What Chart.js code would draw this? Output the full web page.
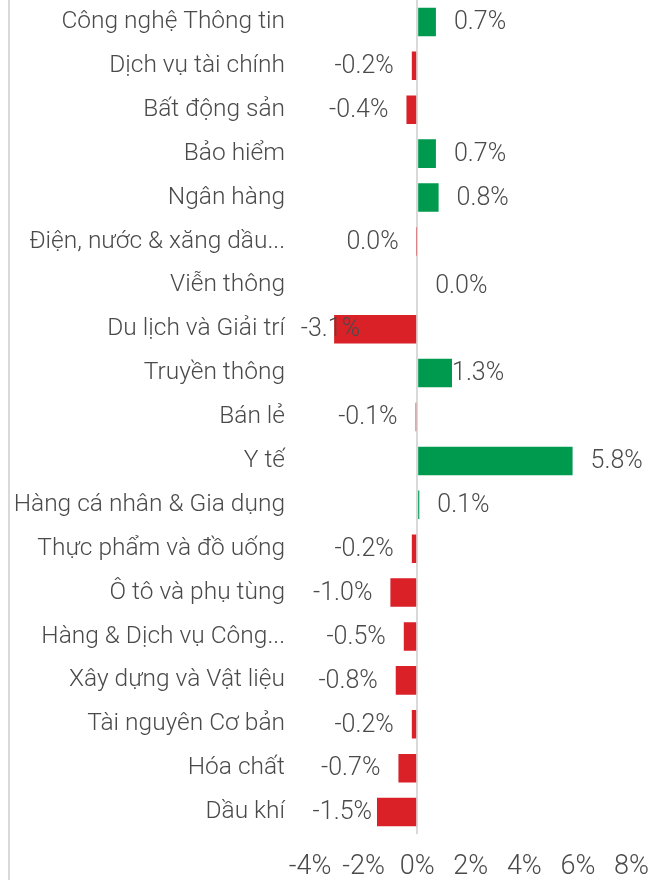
<!DOCTYPE html>
<html>
<head>
<meta charset="utf-8">
<script src="https://cdn.jsdelivr.net/npm/chart.js@4.4.1/dist/chart.umd.min.js"></script>
<style>
  html, body { margin: 0; padding: 0; background: #fff; }
  #wrap { width: 666px; height: 880px; position: relative; }
</style>
</head>
<body>
<div id="wrap"><canvas id="chart"></canvas></div>
<script>
// Thay đổi theo ngành (%)
const categories = [
    'Công nghệ Thông tin', 'Dịch vụ tài chính', 'Bất động sản', 'Bảo hiểm',
    'Ngân hàng', 'Điện, nước & xăng dầu...', 'Viễn thông', 'Du lịch và Giải trí',
    'Truyền thông', 'Bán lẻ', 'Y tế', 'Hàng cá nhân & Gia dụng',
    'Thực phẩm và đồ uống', 'Ô tô và phụ tùng', 'Hàng & Dịch vụ Công...',
    'Xây dựng và Vật liệu', 'Tài nguyên Cơ bản', 'Hóa chất', 'Dầu khí'
];
const changes = [
    0.7, -0.2, -0.4, 0.7,
    0.8, -0.02, 0.0, -3.1,
    1.3, -0.06, 5.8, 0.08,
    -0.2, -1.0, -0.5,
    -0.8, -0.2, -0.7, -1.5
];
const xTicks = [-4, -2, 0, 2, 4, 6, 8];

const GREEN = '#009a4e';
const RED = '#da2128';
const TEXT = '#4a4a4a';
const FONT = 'Roboto, "Noto Sans", sans-serif';

function fmtPct(v) {
    const s = v.toFixed(1);
    return (s === '-0.0' ? '0.0' : s) + '%';
}

// nhãn dữ liệu ở đầu cột; vài nhãn được dịch tay như bản gốc
const barLabels = {
    id: 'barLabels',
    afterDatasetsDraw(chart, args, opts) {
        const ctx = chart.ctx;
        const meta = chart.getDatasetMeta(0);
        const vals = chart.data.datasets[0].data;
        ctx.save();
        ctx.font = '300 25px ' + FONT;
        ctx.fillStyle = TEXT;
        ctx.textBaseline = 'middle';
        meta.data.forEach((bar, i) => {
            const v = vals[i];
            const neg = v < 0;
            const nudge = opts.nudge[i] || 0;
            ctx.textAlign = neg ? 'right' : 'left';
            const x = bar.x + (neg ? -opts.gap : opts.gap) + nudge;
            ctx.fillText(fmtPct(v), x, bar.y + 1);
        });
        ctx.restore();
    }
};

const frameLine = {
    id: 'frameLine',
    beforeDraw(chart) {
        const ctx = chart.ctx;
        ctx.save();
        ctx.strokeStyle = '#d9d9d9';
        ctx.lineWidth = 2;
        ctx.beginPath();
        ctx.moveTo(9, 0);
        ctx.lineTo(9, chart.height);
        ctx.stroke();
        ctx.restore();
    }
};

new Chart(document.getElementById('chart'), {
    type: 'bar',
    data: {
        labels: categories,
        datasets: [{
            data: changes,
            backgroundColor: changes.map(v => v < 0 ? RED : GREEN),
            borderWidth: 0,
            barPercentage: 0.65,
            categoryPercentage: 1
        }]
    },
    options: {
        indexAxis: 'y',
        responsive: true,
        maintainAspectRatio: false,
        animation: false,
        layout: { padding: { top: 0, right: 34, bottom: 0, left: 0 } },
        plugins: {
            legend: { display: false },
            tooltip: { enabled: false },
            barLabels: { gap: 18, nudge: { 7: 44, 8: -18, 18: 13 } }
        },
        scales: {
            x: {
                min: xTicks[0],
                max: xTicks[xTicks.length - 1],
                afterBuildTicks: s => { s.ticks = xTicks.map(v => ({ value: v })); },
                afterFit: s => { s.height = 46; },
                border: { display: false },
                grid: {
                    drawTicks: false,
                    lineWidth: 2,
                    color: c => c.tick && c.tick.value === 0 ? '#d9d9d9' : 'rgba(0,0,0,0)'
                },
                ticks: {
                    padding: 17,
                    color: TEXT,
                    font: { family: FONT, size: 27, weight: '300' },
                    callback: v => v + '%'
                }
            },
            y: {
                afterFit: s => {
                    s.width = 310;
                    s.paddingTop = 0;
                    s.paddingBottom = 0;
                },
                border: { display: false },
                grid: { display: false, drawTicks: false },
                ticks: {
                    padding: 25,
                    color: TEXT,
                    font: { family: FONT, size: 24.5, weight: '300' }
                }
            }
        }
    },
    plugins: [barLabels, frameLine]
});
</script>
</body>
</html>
